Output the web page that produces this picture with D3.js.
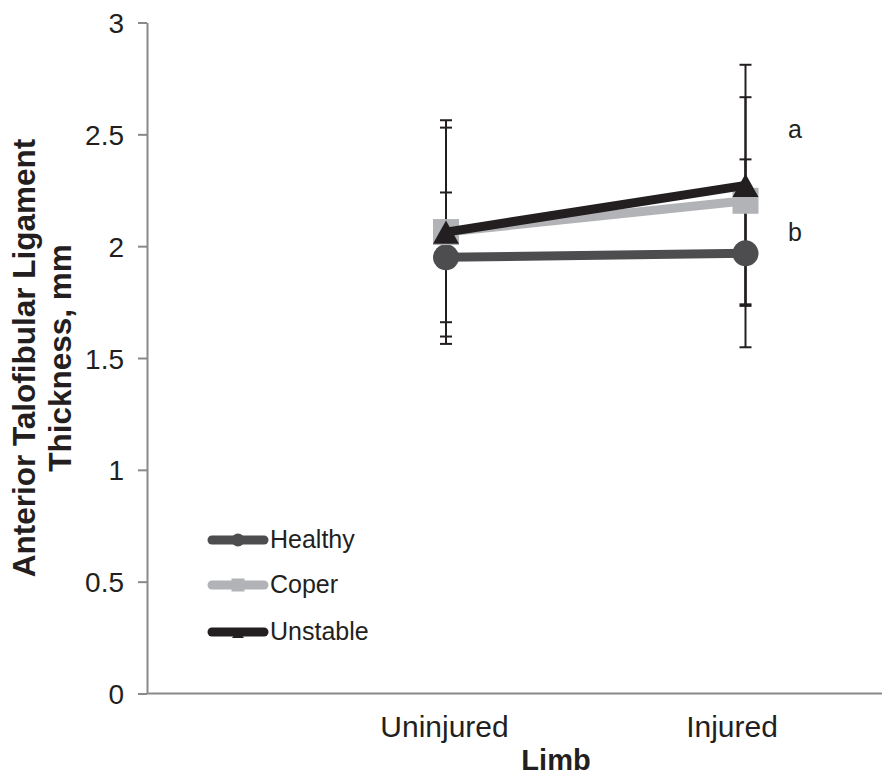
<!DOCTYPE html>
<html>
<head>
<meta charset="utf-8">
<script src="https://cdn.jsdelivr.net/npm/d3@7"></script>
<style>
  html, body { margin: 0; padding: 0; background: #fff; }
  svg { display: block; font-family: "Liberation Sans", Arial, sans-serif; }
</style>
</head>
<body>
<svg id="chart" width="882" height="778"></svg>
<script>
// ---- data ----
const categories = ["Uninjured", "Injured"];
const seriesNames = ["Healthy", "Coper", "Unstable"];
const healthyMean = [1.95, 1.968];
const healthySD   = [0.29, 0.42];
const coperMean   = [2.063, 2.203];
const coperSD     = [0.50, 0.463];
const unstableMean = [2.063, 2.272];
const unstableSD   = [0.467, 0.539];
const yTicks = [0, 0.5, 1, 1.5, 2, 2.5, 3];
const yTickLabels = ["0", "0.5", "1", "1.5", "2", "2.5", "3"];
const sigLabels = ["a", "b"];
const sigValues = [2.485, 2.023];

const series = [
  { name: seriesNames[0], mean: healthyMean, sd: healthySD, color: "#4d4d4f", marker: "circle" },
  { name: seriesNames[1], mean: coperMean, sd: coperSD, color: "#b1b3b6", marker: "square" },
  { name: seriesNames[2], mean: unstableMean, sd: unstableSD, color: "#231f20", marker: "triangle" }
];

const svg = d3.select("#chart");
const axisColor = "#898989";
const textColor = "#231f20";

const y = d3.scaleLinear().domain([0, 3]).range([693.5, 22.5]);
const x = d3.scalePoint().domain(categories).range([446, 745.5]);
const axisX0 = 147, axisX1 = 882;

// ---- y axis ----
const yAxis = d3.axisLeft(y)
  .tickValues(yTicks)
  .tickFormat((d, i) => yTickLabels[i])
  .tickSize(9)
  .tickSizeOuter(0)
  .tickPadding(14);
const gy = svg.append("g").attr("transform", `translate(${axisX0},0)`).call(yAxis);
gy.select(".domain").attr("stroke", axisColor).attr("stroke-width", 2);
gy.selectAll(".tick line").attr("stroke", axisColor).attr("stroke-width", 2);
gy.selectAll(".tick text")
  .attr("fill", textColor)
  .style("font-size", "28px")
  .attr("dy", "0.36em");

// ---- x axis ----
svg.append("line")
  .attr("x1", axisX0).attr("x2", axisX1)
  .attr("y1", y(0)).attr("y2", y(0))
  .attr("stroke", axisColor).attr("stroke-width", 2);
const xAxis = d3.axisBottom(x).tickSize(0).tickSizeOuter(0).tickPadding(0);
const gx = svg.append("g").attr("transform", `translate(0,${y(0)})`).call(xAxis);
gx.select(".domain").remove();
gx.selectAll(".tick text")
  .attr("fill", textColor)
  .attr("y", 43.5).attr("dy", 0)
  .attr("dx", (d, i) => i === 1 ? -14 : -2)
  .style("font-size", "30px");

// ---- axis titles ----
svg.append("text")
  .attr("x", 556)
  .attr("y", 770)
  .attr("text-anchor", "middle")
  .attr("fill", textColor)
  .style("font-size", "29px").style("font-weight", "bold")
  .text("Limb");

const yTitleY = (y(0) + y(3)) / 2;
svg.append("text")
  .attr("transform", `translate(35,${yTitleY}) rotate(-90)`)
  .attr("text-anchor", "middle")
  .attr("fill", textColor)
  .style("font-size", "31.5px").style("font-weight", "bold")
  .text("Anterior Talofibular Ligament");
svg.append("text")
  .attr("transform", `translate(71,${yTitleY}) rotate(-90)`)
  .attr("text-anchor", "middle")
  .attr("fill", textColor)
  .style("font-size", "31.5px").style("font-weight", "bold")
  .text("Thickness, mm");

// ---- error bars ----
const eb = svg.append("g");
series.forEach(s => {
  categories.forEach((c, i) => {
    const cx = x(c);
    const hi = y(s.mean[i] + s.sd[i]), lo = y(s.mean[i] - s.sd[i]);
    eb.append("line").attr("x1", cx).attr("x2", cx).attr("y1", hi).attr("y2", lo)
      .attr("stroke", textColor).attr("stroke-width", 2);
    [hi, lo].forEach(yy => eb.append("line")
      .attr("x1", cx - 6).attr("x2", cx + 6).attr("y1", yy).attr("y2", yy)
      .attr("stroke", textColor).attr("stroke-width", 2));
  });
});

// ---- markers ----
function drawMarker(g, type, cx, cy, size, color) {
  if (type === "circle") {
    g.append("circle").attr("cx", cx).attr("cy", cy).attr("r", size / 2).attr("fill", color);
  } else if (type === "square") {
    g.append("rect").attr("x", cx - size / 2).attr("y", cy - size / 2)
      .attr("width", size).attr("height", size).attr("fill", color);
  } else {
    const h = size * 0.9;
    g.append("path")
      .attr("d", `M${cx},${cy - h / 2}L${cx + size / 2},${cy + h / 2}L${cx - size / 2},${cy + h / 2}Z`)
      .attr("fill", color);
  }
}

const line = d3.line().x((d, i) => x(categories[i])).y(d => y(d));
series.forEach(s => {
  const g = svg.append("g");
  g.append("path").datum(s.mean)
    .attr("d", line)
    .attr("fill", "none")
    .attr("stroke", s.color)
    .attr("stroke-width", 9)
    .attr("stroke-linecap", "round")
    .attr("stroke-linejoin", "round");
  s.mean.forEach((v, i) => drawMarker(g, s.marker, x(categories[i]), y(v), 26, s.color));
});

// ---- significance letters ----
svg.selectAll(".sig").data(sigLabels).enter().append("text")
  .attr("x", 795)
  .attr("y", (d, i) => y(sigValues[i]))
  .attr("text-anchor", "middle")
  .attr("fill", textColor)
  .style("font-size", "25px")
  .text(d => d);

// ---- legend ----
const legendY = [540, 585, 632];
series.forEach((s, i) => {
  const g = svg.append("g");
  const ly = legendY[i];
  g.append("line").attr("x1", 212).attr("x2", 264).attr("y1", ly).attr("y2", ly)
    .attr("stroke", s.color).attr("stroke-width", 9).attr("stroke-linecap", "round");
  if (s.marker === "triangle") {
    g.append("path").attr("d", `M238,${ly - 2}L244,${ly + 6}L232,${ly + 6}Z`).attr("fill", s.color);
  } else {
    drawMarker(g, s.marker, 238, ly, 13, s.color);
  }
  g.append("text").attr("x", 270).attr("y", ly + 8)
    .attr("fill", textColor)
    .style("font-size", "25px")
    .text(s.name);
});
</script>
</body>
</html>
